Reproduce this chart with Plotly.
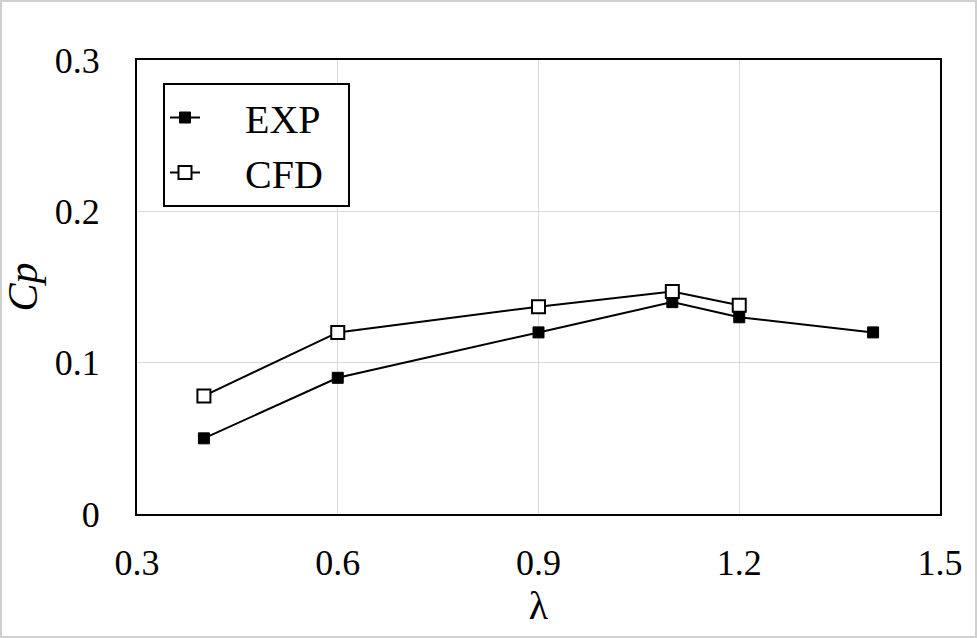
import plotly.graph_objects as go

lam_exp = [0.4, 0.6, 0.9, 1.1, 1.2, 1.4]
cp_exp = [0.050, 0.090, 0.120, 0.140, 0.130, 0.120]
lam_cfd = [0.4, 0.6, 0.9, 1.1, 1.2]
cp_cfd = [0.078, 0.120, 0.137, 0.147, 0.138]
series_names = ["EXP", "CFD"]
x_ticks = [0.3, 0.6, 0.9, 1.2, 1.5]
y_ticks = [0, 0.1, 0.2, 0.3]
y_tick_text = ["0", "0.1", "0.2", "0.3"]

W, H = 977, 638
L, R, T, B = 137, 37, 60, 124
pw, ph = W - L - R, H - T - B

font = "Liberation Serif, Times New Roman, serif"
pad = "\u00a0"

fig = go.Figure()
fig.add_trace(go.Scatter(
    x=lam_exp, y=cp_exp, name=pad * 4 + series_names[0] + pad * 2, mode="lines+markers",
    line=dict(color="black", width=2),
    marker=dict(symbol="square", size=11, color="black", line=dict(color="black", width=1)),
))
fig.add_trace(go.Scatter(
    x=lam_cfd, y=cp_cfd, name=pad * 4 + series_names[1] + pad * 2, mode="lines+markers",
    line=dict(color="black", width=2),
    marker=dict(symbol="square", size=13, color="white", line=dict(color="black", width=2)),
))

fig.update_layout(
    width=W, height=H,
    margin=dict(l=L, r=R, t=T, b=B, autoexpand=False),
    paper_bgcolor="white", plot_bgcolor="white",
    font=dict(family=font, size=36, color="black"),
    showlegend=True,
    legend=dict(
        x=(163 - L) / pw, y=1 - (83 - T) / ph, xanchor="left", yanchor="top",
        bordercolor="black", borderwidth=2, bgcolor="white",
        font=dict(family=font, size=40), itemwidth=30,
        tracegroupgap=0,
    ),
    xaxis=dict(
        range=[0.3, 1.5], tickvals=x_ticks, ticktext=[f"{v:.1f}" for v in x_ticks],
        showgrid=True, gridcolor="#d9d9d9", gridwidth=1,
        showline=True, linecolor="black", linewidth=2, mirror=True,
        ticks="", zeroline=False, ticklabelstandoff=16, automargin=False,
        title=dict(text="λ", font=dict(family=font, size=40), standoff=8),
        tickfont=dict(size=36),
    ),
    yaxis=dict(
        range=[0, 0.3], tickvals=y_ticks, ticktext=y_tick_text,
        showgrid=True, gridcolor="#d9d9d9", gridwidth=1,
        showline=True, linecolor="black", linewidth=2, mirror=True,
        ticks="", zeroline=False, ticklabelstandoff=28, automargin=False,
        title=dict(text="<i>Cp</i>", font=dict(family=font, size=42), standoff=30),
        tickfont=dict(size=36),
    ),
    shapes=[dict(
        type="rect", xref="paper", yref="paper",
        x0=(-L + 1) / pw, x1=1 + (R - 1) / pw,
        y0=(-B + 1) / ph, y1=1 + (T - 1) / ph,
        line=dict(color="#d0d0d0", width=2), fillcolor="rgba(0,0,0,0)", layer="below",
    )],
)

fig.write_html("out.html")
